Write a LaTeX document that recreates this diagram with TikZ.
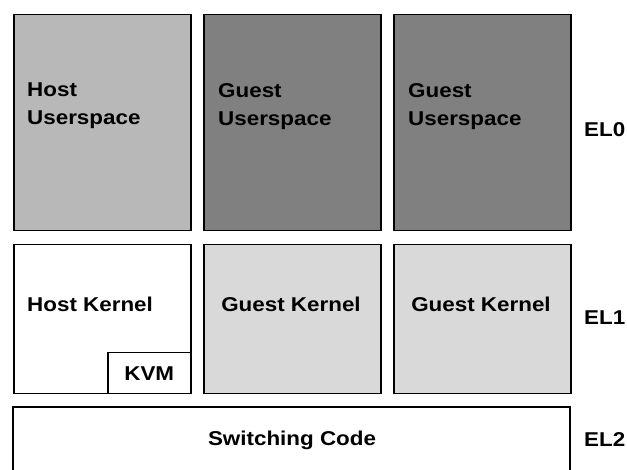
\documentclass[tikz,border=0pt]{standalone}
\usepackage{fontspec}
\setsansfont{Liberation Sans}[FakeStretch=1.12]
\usetikzlibrary{positioning}
\tikzset{
  layer/.style={
    shape = rectangle,
    draw,
    line width = 1.5pt,
    anchor = north west,
    minimum width = 177pt,
    inner sep = 0pt
  },
  txt/.style={
    font = \sffamily\bfseries\fontsize{20}{28}\selectfont,
    align = left,
    inner sep = 0pt
  },
}
\definecolor{hostgray}{HTML}{B8B8B8}
\definecolor{guestgray}{HTML}{808080}
\definecolor{kernelgray}{HTML}{D9D9D9}
\begin{document}
\begin{tikzpicture}[x=1pt,y=-1pt]
\useasboundingbox (0,0) rectangle (627,470);
% EL0
\node[layer, fill=hostgray, minimum height=216pt] (hostuser) at (13,14) {};
\foreach \x/\n in {203/A,393/B}{
  \node[layer, fill=guestgray, minimum height=216pt] (guestuser\n) at (\x,14) {};
}
\node[txt, anchor=north west] (hostusertxt) at (27,83) {Host\\Userspace};
\node[txt, anchor=north west] (guestusertxtA) at (218,83) {Guest\\Userspace};
\node[txt, anchor=north west] (guestusertxtB) at (408,83) {Guest\\Userspace};
% EL1
\node[layer, fill=white, minimum height=149pt] (hostkernel) at (13,244) {};
\foreach \x/\n in {203/A,393/B}{
  \node[layer, fill=kernelgray, minimum height=149pt] (guestkernel\n) at (\x,244) {};
  \node[txt] (guestkerneltxt\n) at (\x+88,304) {Guest Kernel};
}
\node[txt, anchor=west] (hostkerneltxt) at (27,304) {Host Kernel};
\node[layer, anchor=south east, minimum width=83pt, minimum height=41pt] (kvm) at (hostkernel.south east) {};
\node[txt] (kvmtxt) at (kvm.center) {KVM};
% EL2
\draw[line width=1.5pt] (13,475) |- (570,407) -- (570,475);
\node[txt] (switching) at (292,440) {Switching Code};
% levels
\foreach \y/\l in {130/0,318/1,440/2}{
  \node[txt, anchor=west] (el\l) at (584,\y) {EL\l};
}
\end{tikzpicture}
\end{document}
